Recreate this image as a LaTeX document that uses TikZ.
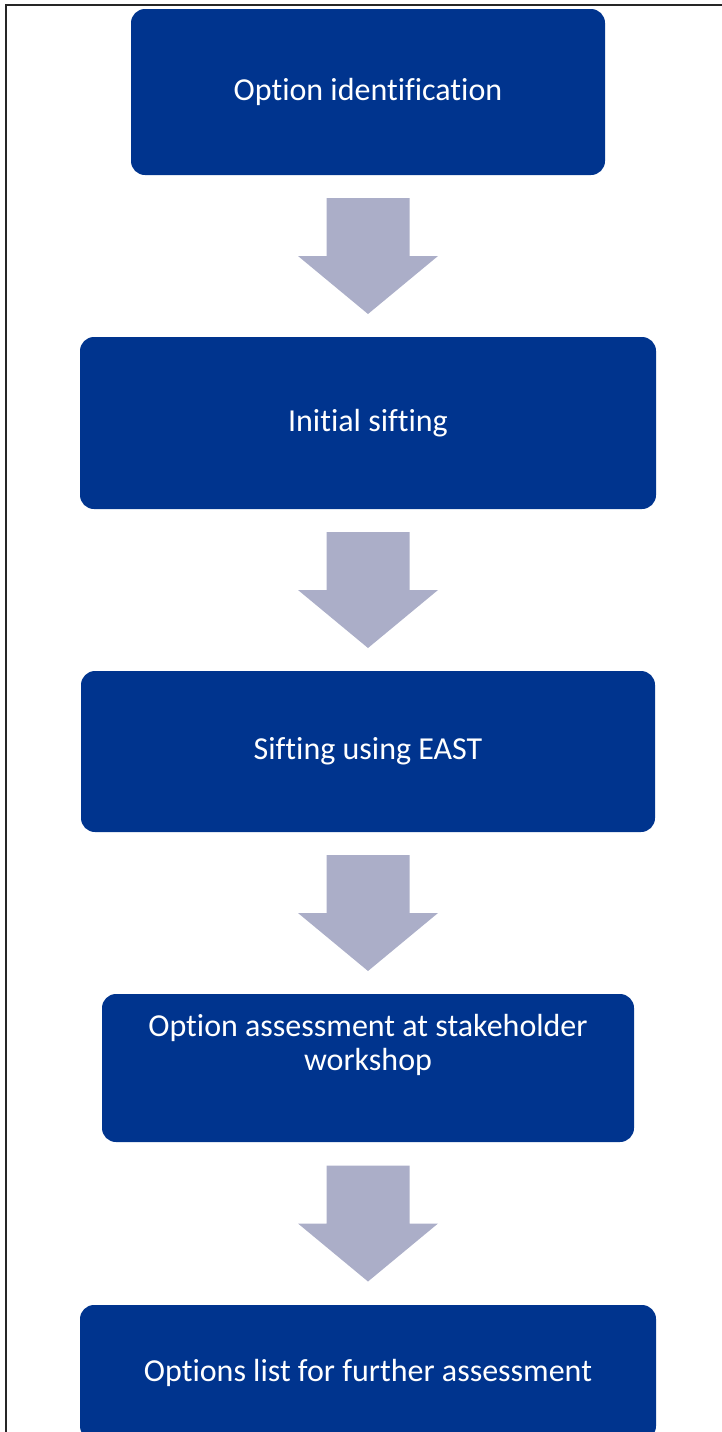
\documentclass[tikz,border=0pt]{standalone}
\usepackage{fontspec}
\setmainfont{Carlito}[Ligatures=NoCommon]
\usetikzlibrary{calc}
\definecolor{boxblue}{RGB}{0,52,142}
\definecolor{arrowgray}{RGB}{171,174,200}
\tikzset{
  stepbox/.style={fill=boxblue, rounded corners=14pt, inner sep=0pt, text=white,
    font=\fontsize{32}{34}\selectfont, align=center},
  blockarrow/.style={fill=arrowgray, draw=none},
}
\newcommand{\downarrowshape}[2]{%
  \fill[blockarrow] ($(#1.south)!0.5!(#2.north)$) coordinate (c)
    ++(-41.5,-58) -- ++(83,0) -- ++(0,58) -- ++(28.5,0) -- ++(-70,58) -- ++(-70,-58) -- ++(28.5,0) -- cycle;}
\begin{document}
\begin{tikzpicture}[x=1pt,y=-1pt]
\useasboundingbox (0,0) rectangle (722,1432);
\begin{scope}
\clip (0,0) rectangle (722,1432);
\draw[line width=1.5pt, black!85] (6,1440) -- (6,5) -- (730,5);
\node[stepbox, minimum width=474pt, minimum height=166pt] (b1) at (368,92) {Option identification};
\node[stepbox, minimum width=576pt, minimum height=172pt] (b2) at (368,423) {Initial sifting};
\node[stepbox, minimum width=574pt, minimum height=161pt] (b3) at (368,751.5) {Sifting using EAST};
\node[stepbox, minimum width=532pt, minimum height=148pt] (b4) at (368,1068) {};
\node[text=white, font=\fontsize{32}{34}\selectfont, align=center, inner sep=0pt] (t4) at (368,1045) {Option assessment at stakeholder\\workshop};
\node[stepbox, minimum width=576pt, minimum height=135pt] (b5) at (368,1372.5) {Options list for further assessment};
\downarrowshape{b1}{b2}
\downarrowshape{b2}{b3}
\downarrowshape{b3}{b4}
\downarrowshape{b4}{b5}
\end{scope}
\end{tikzpicture}
\end{document}
